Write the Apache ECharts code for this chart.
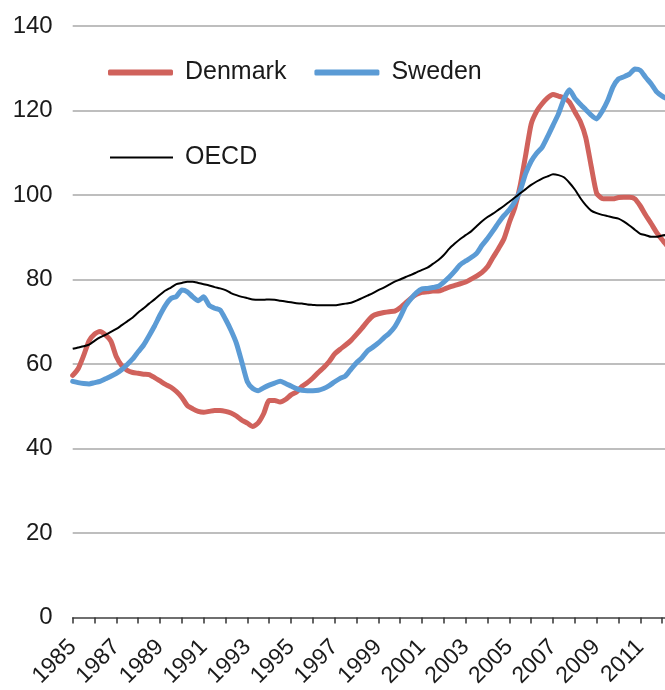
<!DOCTYPE html>
<html>
<head>
<meta charset="utf-8">
<script src="https://cdn.jsdelivr.net/npm/echarts@6/dist/echarts.min.js"></script>
<style>
html,body{margin:0;padding:0;background:#fff;}
#chart{width:665px;height:690px;}
</style>
</head>
<body>
<div id="chart"></div>
<script>
// Quarterly series starting 1985 Q1 (index 0 = 1985.00, step 0.25 year)
const startYear = 1985;
const denmark = [
57.3,58.9,62,65.5,67.1,67.7,66.9,65.4,61.7,59.6,58.5,58,57.8,57.6,57.5,56.8,
56,55.2,54.5,53.5,52.1,50.2,49.4,48.8,48.6,48.8,49,49,48.8,48.4,47.7,46.7,
46,45.2,46.1,48.3,51.4,51.4,51,51.6,52.7,53.4,54.7,55.6,56.7,58,59.2,60.6,
62.4,63.5,64.5,65.6,67,68.5,70.1,71.4,71.9,72.2,72.4,72.5,73.3,74.5,75.6,76.5,
77,77.1,77.3,77.3,77.7,78.2,78.6,79,79.4,80.1,80.8,81.7,83,85.2,87.3,89.6,
93.5,97,102.3,109.5,116.8,119.8,121.6,123,123.8,123.4,123,122,119.7,117.4,113.6,106.8,
100.4,99.2,99.1,99.1,99.4,99.5,99.5,99.1,97.4,95.2,93.2,91.1,89.4,87.8
];
const sweden = [
55.9,55.6,55.4,55.3,55.6,55.9,56.5,57.1,57.8,58.7,59.9,61.2,62.9,64.5,66.7,69,
71.6,73.9,75.5,76,77.5,77.1,75.9,75,75.9,73.9,73.2,72.8,70.6,68,64.9,60.4,
55.8,54.2,53.7,54.4,55,55.5,55.9,55.4,54.8,54.2,53.8,53.7,53.7,53.8,54.2,54.9,
55.8,56.6,57.2,58.8,60.3,61.5,63.1,64,65,66.2,67.3,68.8,71.1,73.8,75.5,76.9,
77.8,77.9,78.1,78.4,79.4,80.6,82,83.5,84.4,85.2,86.2,88.1,89.7,91.5,93.4,95.1,
96.5,98.4,101.1,105.1,108,109.9,111.3,113.8,116.5,119.2,122.7,124.9,122.9,121.5,120.2,118.9,
118,119.8,122.3,125.6,127.5,128,128.6,129.8,129.5,127.8,126.3,124.4,123.4,122.7
];
const oecd = [
63.6,63.9,64.2,64.6,65.5,66.3,66.9,67.6,68.3,69.2,70.1,71,72.2,73.2,74.3,75.3,
76.4,77.4,78.1,78.9,79.2,79.5,79.5,79.2,78.9,78.6,78.2,77.9,77.5,76.8,76.3,75.9,
75.6,75.3,75.2,75.2,75.3,75.2,75,74.8,74.6,74.4,74.3,74.1,74,73.9,73.9,73.9,
73.9,74.1,74.3,74.5,75,75.6,76.2,76.8,77.5,78.1,78.8,79.5,80,80.6,81.1,81.7,
82.3,82.8,83.7,84.6,85.8,87.3,88.5,89.6,90.5,91.4,92.6,93.8,94.8,95.6,96.5,97.4,
98.4,99.4,100.4,101.4,102.4,103.2,103.9,104.4,104.9,104.7,104.2,102.9,101.3,99.3,97.6,96.3,
95.7,95.3,95,94.7,94.4,93.7,92.8,91.8,90.8,90.5,90.1,90.1,90.4,90.6
];
const seriesNames = ['Denmark', 'Sweden', 'OECD'];
const yTicks = [0, 20, 40, 60, 80, 100, 120, 140];

function toPairs(arr) {
  return arr.map((v, i) => [startYear + i * 0.25, v]);
}

const FONT = '"Liberation Sans", Arial, sans-serif';
const chart = echarts.init(document.getElementById('chart'), null, {renderer: 'canvas'});
chart.setOption({
  animation: false,
  backgroundColor: '#ffffff',
  grid: {left: 72.7, right: 0, top: 26, bottom: 69, containLabel: false},
  legend: [
    {
      data: [seriesNames[0], seriesNames[1]],
      left: 103, top: 55,
      orient: 'horizontal',
      icon: 'roundRect',
      itemWidth: 65, itemHeight: 6, itemGap: 28,
      textStyle: {fontFamily: FONT, fontSize: 25, color: '#1a1a1a', padding: [0, 0, 0, 7]}
    },
    {
      data: [seriesNames[2]],
      left: 105, top: 140,
      icon: 'rect',
      itemWidth: 63, itemHeight: 2,
      textStyle: {fontFamily: FONT, fontSize: 25, color: '#1a1a1a', padding: [0, 0, 0, 7]}
    }
  ],
  xAxis: {
    type: 'value',
    min: startYear,
    max: 2012.13,
    interval: 1,
    splitLine: {show: false},
    axisLine: {show: true, onZero: false, lineStyle: {color: '#555', width: 1.5}},
    axisTick: {show: true, length: 6, lineStyle: {color: '#333', width: 1.5}},
    axisLabel: {
      rotate: 45,
      margin: 26,
      fontFamily: FONT, fontSize: 23, color: '#1a1a1a',
      showMaxLabel: false,
      formatter: function (v) {
        return (Number.isInteger(v) && v % 2 === 1) ? String(v) : '';
      }
    }
  },
  yAxis: {
    type: 'value',
    min: yTicks[0],
    max: yTicks[yTicks.length - 1],
    interval: 20,
    axisLine: {show: false},
    axisTick: {show: false},
    axisLabel: {margin: 20, fontFamily: FONT, fontSize: 24, color: '#1a1a1a'},
    splitLine: {show: true, lineStyle: {color: '#a8a8a8', width: 1.5}}
  },
  series: [
    {
      name: seriesNames[0], type: 'line', data: toPairs(denmark),
      showSymbol: false, symbol: 'none', smooth: 0.2, clip: true,
      lineStyle: {color: '#D0625C', width: 5, cap: 'round', join: 'round'},
      itemStyle: {color: '#D0625C'}
    },
    {
      name: seriesNames[1], type: 'line', data: toPairs(sweden),
      showSymbol: false, symbol: 'none', smooth: 0.2, clip: true,
      lineStyle: {color: '#5B9BD5', width: 5, cap: 'round', join: 'round'},
      itemStyle: {color: '#5B9BD5'}
    },
    {
      name: seriesNames[2], type: 'line', data: toPairs(oecd),
      showSymbol: false, symbol: 'none', smooth: 0.2, clip: true,
      lineStyle: {color: '#000000', width: 2, join: 'round'},
      itemStyle: {color: '#000000'}
    }
  ]
});
</script>
</body>
</html>
